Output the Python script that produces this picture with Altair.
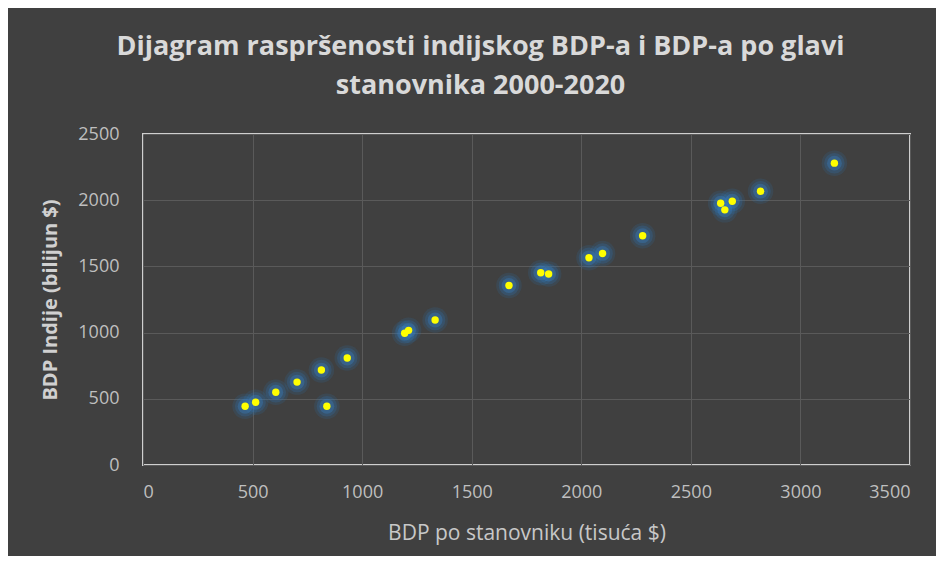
import altair as alt
import pandas as pd

# BDP po stanovniku (x) and BDP Indije (y), 2000-2020
bdp_po_stanovniku = [466, 514, 606, 703, 814, 839, 932, 1194, 1212, 1333, 1670,
                     1815, 1851, 2035, 2097, 2280, 2636, 2655, 2689, 2818, 3155]
bdp_indije = [444, 474, 550, 626, 717, 444, 808, 995, 1017, 1095, 1356,
              1452, 1442, 1565, 1598, 1732, 1977, 1927, 1992, 2068, 2280]
x_ticks = [0, 500, 1000, 1500, 2000, 2500, 3000, 3500]
y_ticks = [0, 500, 1000, 1500, 2000, 2500]

df = pd.DataFrame({"x": bdp_po_stanovniku, "y": bdp_indije})

W, H = 767, 331
LEFT, TOP = 135, 126
TOTAL_W, TOTAL_H = 928, 548

base = alt.Chart(df).encode(
    x=alt.X(
        "x:Q",
        scale=alt.Scale(domain=[0, 3500], nice=False, zero=True),
        axis=alt.Axis(
            values=x_ticks,
            format="d",
            title="BDP po  stanovniku  (tisuća $)",
            labelPadding=18,
            titleX=W / 2,
            titleY=68,
            titleBaseline="middle",
            titleAlign="center",
            titleFontWeight="normal",
            titleFontSize=21,
            titleColor="#c8c8c8",
        ),
    ),
    y=alt.Y(
        "y:Q",
        scale=alt.Scale(domain=[0, 2500], nice=False),
        axis=alt.Axis(
            values=y_ticks,
            format="d",
            title="BDP Indije  (bilijun $)",
            labelPadding=24,
            titleX=-93,
            titleY=H / 2,
            titleAngle=-90,
            titleBaseline="middle",
            titleAlign="center",
            titleFontWeight="bold",
            titleFontSize=20,
            titleColor="#d0d0d0",
        ),
    ),
)

glow_far = base.mark_circle(size=650, color="#2e75b6", opacity=0.16)
glow_mid = base.mark_circle(size=420, color="#2e75b6", opacity=0.24)
glow_near = base.mark_circle(size=220, color="#3a80c2", opacity=0.35)
dots = base.mark_circle(size=55, color="#ffff00", opacity=1)

chart = (
    alt.layer(glow_far, glow_mid, glow_near, dots)
    .properties(
        width=W,
        height=H,
        autosize="none",
        padding={"left": LEFT, "top": TOP, "right": TOTAL_W - LEFT - W, "bottom": TOTAL_H - TOP - H},
        background="#404040",
        title=alt.TitleParams(
            text=["Dijagram raspršenosti indijskog BDP-a i BDP-a po glavi", "stanovnika 2000-2020"],
            font="Open Sans",
            fontSize=27,
            fontWeight="bold",
            color="#d9d9d9",
            anchor="middle",
            dx=-46,
            offset=25,
            lineHeight=39,
        ),
    )
    .configure_view(stroke="#cfcfcf", strokeWidth=2)
    .configure_axis(
        grid=True,
        gridColor="#5a5a5a",
        gridWidth=1,
        domain=False,
        ticks=False,
        labelFont="Open Sans",
        labelFontSize=18,
        labelColor="#bfbfbf",
        titleFont="Open Sans",
    )
)

chart.save("out.html", embed_options={"renderer": "svg", "actions": False})
